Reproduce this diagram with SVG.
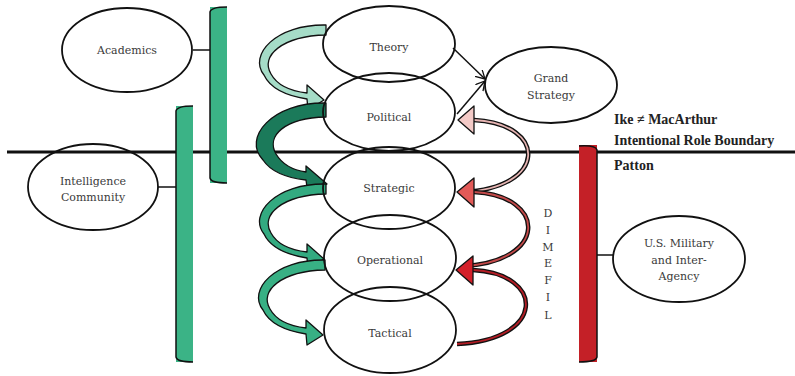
<svg xmlns="http://www.w3.org/2000/svg" xmlns:xlink="http://www.w3.org/1999/xlink" width="795" height="376" viewBox="0 0 795 376">
<style>
.n{fill:none;stroke:#111;stroke-width:1.8}
.t{font-family:"DejaVu Serif","Liberation Serif",serif;font-size:11px;fill:#3a3a3a;text-anchor:middle}
.b{font-family:"Liberation Serif",serif;font-size:14px;font-weight:bold;fill:#222}
.ga{stroke:#111;stroke-width:1.3;stroke-linejoin:round}
.ro{fill:none;stroke:#111;stroke-width:4.5;stroke-linecap:butt}
.ln{fill:none;stroke:#111;stroke-width:1.5}
.hd{stroke:#111;stroke-width:1.3;stroke-linejoin:round}
</style>
<defs>
<marker id="open" markerWidth="12" markerHeight="12" refX="9" refY="5" orient="auto" markerUnits="userSpaceOnUse">
<path d="M0,0 L9,5 L0,10" fill="none" stroke="#111" stroke-width="1.3"/>
</marker>
<path id="ga" d="M 0 -5 C -50 -6, -78 25, -62 45 C -55 60, -38 66, -19 69 L -18 80 L -2 70 L -19 55 L -19 63 C -36 61, -49 55, -55 44 C -66 26, -44 6, 0 5 Z"/>
<path id="gb" d="M 0 -7 C -54 -8, -84 28, -63 50 C -55 62, -38 68, -20 70 L -18 84 L 1 74 L -20 56 L -20 62 C -34 60, -44 54, -50 44 C -60 26, -42 8, 0 7 Z"/>
</defs>
<rect width="795" height="376" fill="#ffffff"/>

<g id="connectors">
  <line x1="7" y1="152" x2="795" y2="152" stroke="#111" stroke-width="3"/>
  <rect x="210" y="7" width="17" height="176" fill="#3bb386"/>
  <path class="ln" d="M 227 7 Q 211 7 210 12 L 210 178 Q 211 183 227 183"/>
  <line class="ln" x1="193" y1="50" x2="210" y2="50"/>
  <rect x="176" y="106" width="17" height="256" fill="#3bb386"/>
  <path class="ln" d="M 193 106 Q 177 106 176 111 L 176 357 Q 177 362 193 362"/>
  <line class="ln" x1="158" y1="187" x2="176" y2="187"/>
  <rect x="579" y="145" width="18" height="217" fill="#c42027"/>
  <path class="ln" d="M 579 146 Q 596 145 597 150 L 597 357 Q 596 362 579 362"/>
  <line class="ln" x1="597" y1="255" x2="613" y2="255"/>
  <line class="ln" x1="453" y1="48" x2="485" y2="79" marker-end="url(#open)"/>
  <line class="ln" x1="457" y1="114" x2="485" y2="81" marker-end="url(#open)"/>
  <use xlink:href="#ga" href="#ga" class="ga" fill="#a5dcc7" transform="translate(326,30)"/>
  <use xlink:href="#gb" href="#gb" class="ga" fill="#1b7a5a" transform="translate(326,110)"/>
  <use xlink:href="#ga" href="#ga" class="ga" fill="#33aa80" transform="translate(326,189)"/>
  <use xlink:href="#ga" href="#ga" class="ga" fill="#38b084" transform="translate(325,265)"/>
  <path class="ro" d="M 463 192 C 548 188, 548 124, 474 120"/>
  <path d="M 463 192 C 548 188, 548 124, 474 120" fill="none" stroke="#e6b4b2" stroke-width="1.8"/>
  <polygon class="hd" points="458,120 474,106 474,134" fill="#f4cac7"/>
  <path class="ro" d="M 463 266 C 548 262, 548 196, 474 192"/>
  <path d="M 463 266 C 548 262, 548 196, 474 192" fill="none" stroke="#c44a4a" stroke-width="1.8"/>
  <polygon class="hd" points="457,192 474,178 474,207" fill="#e25a58"/>
  <path class="ro" d="M 457 344 C 546 340, 546 274, 473 270"/>
  <path d="M 457 344 C 546 340, 546 274, 473 270" fill="none" stroke="#b31d25" stroke-width="1.8"/>
  <polygon class="hd" points="456,270 473,256 473,285" fill="#d4202a"/>
</g>

<g id="academics"><ellipse class="n" cx="127" cy="50" rx="65" ry="42"/><text class="t" x="127" y="54">Academics</text></g>
<g id="intelligence"><ellipse class="n" cx="93" cy="187" rx="65" ry="43"/><text class="t" x="93" y="185">Intelligence</text><text class="t" x="93" y="201">Community</text></g>
<g id="theory"><ellipse class="n" cx="389" cy="44" rx="66" ry="38"/><text class="t" x="389" y="51">Theory</text></g>
<g id="political"><ellipse class="n" cx="389" cy="112" rx="66" ry="39"/><text class="t" x="389" y="121">Political</text></g>
<g id="strategic"><ellipse class="n" cx="389" cy="188" rx="66" ry="41"/><text class="t" x="389" y="192">Strategic</text></g>
<g id="operational"><ellipse class="n" cx="390" cy="258" rx="66" ry="43"/><text class="t" x="390" y="264">Operational</text></g>
<g id="tactical"><ellipse class="n" cx="390" cy="330" rx="66" ry="43"/><text class="t" x="390" y="337">Tactical</text></g>
<g id="grand-strategy"><ellipse class="n" cx="551" cy="85" rx="66" ry="38"/><text class="t" x="551" y="82">Grand</text><text class="t" x="551" y="99">Strategy</text></g>
<g id="us-military"><ellipse class="n" cx="679" cy="259" rx="66" ry="43"/><text class="t" x="679" y="247">U.S. Military</text><text class="t" x="679" y="264">and Inter-</text><text class="t" x="679" y="280">Agency</text></g>

<g id="labels">
  <text class="b" x="614" y="124">Ike ≠ MacArthur</text>
  <text class="b" x="614" y="145">Intentional Role Boundary</text>
  <text class="b" x="614" y="170">Patton</text>
  <g class="t">
    <text x="548" y="217">D</text>
    <text x="548" y="234">I</text>
    <text x="548" y="251">M</text>
    <text x="548" y="267">E</text>
    <text x="548" y="284">F</text>
    <text x="548" y="301">I</text>
    <text x="548" y="319">L</text>
  </g>
</g>
</svg>
